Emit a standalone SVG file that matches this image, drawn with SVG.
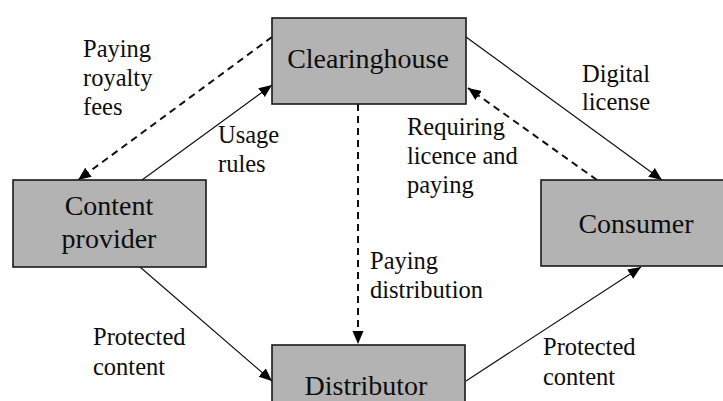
<svg xmlns="http://www.w3.org/2000/svg" width="723" height="401" viewBox="0 0 723 401">
<defs>
<style>
.box{fill:#b3b3b3;stroke:#1a1a1a;stroke-width:1.6}
.nt{font-family:'Liberation Serif','Times New Roman',serif;font-size:28px;fill:#0d0d0d;text-anchor:middle}
.lb{font-family:'Liberation Serif','Times New Roman',serif;font-size:24.5px;fill:#0d0d0d}
.solid{stroke:#111;stroke-width:1.2;fill:none}
.dash{stroke:#111;stroke-width:2;stroke-dasharray:7 5;fill:none}
</style>
<marker id="ah" markerWidth="14" markerHeight="12" refX="13" refY="5.5" orient="auto" markerUnits="userSpaceOnUse">
<path d="M0,0 L13,5.5 L0,11 z" fill="#000"/>
</marker>
</defs>
<rect width="723" height="401" fill="#fff"/>
<g id="connectors">
<line class="dash" x1="272" y1="37" x2="78" y2="180" marker-end="url(#ah)"/>
<line class="solid" x1="142" y1="180" x2="272" y2="85" marker-end="url(#ah)"/>
<line class="solid" x1="466" y1="37" x2="662" y2="180" marker-end="url(#ah)"/>
<line class="dash" x1="597" y1="180" x2="468" y2="88" marker-end="url(#ah)"/>
<line class="dash" x1="358" y1="104" x2="358" y2="344" marker-end="url(#ah)"/>
<line class="solid" x1="140" y1="267" x2="272" y2="381" marker-end="url(#ah)"/>
<line class="solid" x1="466" y1="381" x2="641" y2="267" marker-end="url(#ah)"/>
</g>
<g id="labels">
<text class="lb" x="83" y="57">Paying</text>
<text class="lb" x="83" y="86">royalty</text>
<text class="lb" x="83" y="115">fees</text>
<text class="lb" x="218" y="143">Usage</text>
<text class="lb" x="218" y="172">rules</text>
<text class="lb" x="582" y="82">Digital</text>
<text class="lb" x="582" y="110">license</text>
<text class="lb" x="407" y="135">Requiring</text>
<text class="lb" x="407" y="164">licence and</text>
<text class="lb" x="407" y="193">paying</text>
<text class="lb" x="370" y="269">Paying</text>
<text class="lb" x="370" y="298">distribution</text>
<text class="lb" x="93" y="345">Protected</text>
<text class="lb" x="93" y="375">content</text>
<text class="lb" x="543" y="355">Protected</text>
<text class="lb" x="543" y="385">content</text>
</g>
<g id="clearinghouse">
<rect class="box" x="272" y="18" width="194" height="86"/>
<text class="nt" x="368" y="68">Clearinghouse</text>
</g>
<g id="content-provider">
<rect class="box" x="13" y="180" width="193" height="87"/>
<text class="nt" x="109" y="215">Content</text>
<text class="nt" x="109" y="248">provider</text>
</g>
<g id="consumer">
<rect class="box" x="541" y="180" width="192" height="86"/>
<text class="nt" x="636" y="233">Consumer</text>
</g>
<g id="distributor">
<rect class="box" x="272" y="345" width="193" height="80"/>
<text class="nt" x="366" y="395">Distributor</text>
</g>
</svg>
